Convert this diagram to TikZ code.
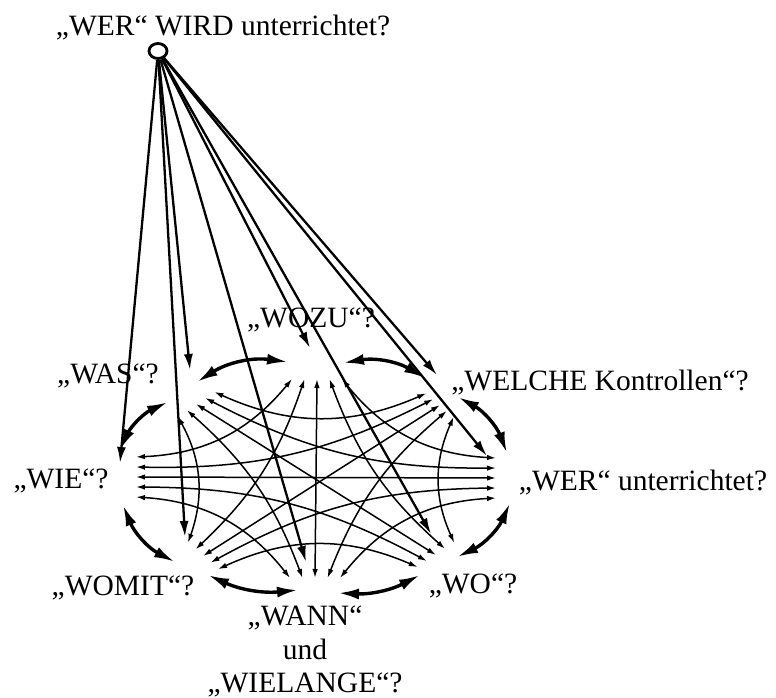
\documentclass[tikz,border=0pt]{standalone}
\usepackage{fontspec}
\setmainfont{Liberation Serif}
\usetikzlibrary{arrows.meta,shapes.geometric}
\begin{document}
\begin{tikzpicture}[x=1pt,y=-1pt,
  lbl/.style={font=\fontsize{29.5}{35}\selectfont, inner sep=0pt, anchor=base},
  thinarr/.style={line width=1.5pt, {Latex[length=9pt,width=5.5pt]}-{Latex[length=9pt,width=5.5pt]}},
  thickarr/.style={line width=3.4pt, {Latex[length=21pt,width=11pt]}-{Latex[length=21pt,width=11pt]}},
  hubarr/.style={line width=2.3pt, -{Latex[length=16pt,width=9pt]}},
  hubring/.style={draw, ellipse, line width=2.8pt, minimum width=18pt, minimum height=15pt, inner sep=0pt}]
\fill[white] (0,0) rectangle (776,698);
\useasboundingbox (0,0) rectangle (776,698);

% ports of the eight questions (5 arrow ends each)
\foreach \i/\px/\py/\tx/\ty/\s in {0/317/379/1/0/12.5, 1/440/405/0.76/0.65/9, 2/496/478/0/1/10, 3/436/555/-0.83/0.55/11, 4/315/578/-1/0/12.5, 5/203/556/-0.75/-0.66/10, 6/136/477/0/-1/10, 7/196/404/0.835/-0.55/11}
  \foreach \m in {1,...,5}
    \coordinate (p\i-\m) at ({\px+(3-\m)*\s*\tx},{\py+(3-\m)*\s*\ty});

% thin connections between non-neighbours
\foreach \i/\j in {0/2,1/3,2/4,3/5,4/6,5/7,6/0,7/1}
  \draw[thinarr] (p\i-1) to[bend right=24] (p\j-5);
\foreach \i/\j in {0/3,1/4,2/5,3/6,4/7,5/0,6/1,7/2}
  \draw[thinarr] (p\i-2) to[bend right=14] (p\j-4);
\foreach \i/\j in {0/4,1/5,2/6,3/7}
  \draw[thinarr] (p\i-3) -- (p\j-3);

% thick connections between neighbours
\coordinate (k70a) at (197,382); \coordinate (k70b) at (288,362);
\coordinate (k01a) at (343,363); \coordinate (k01b) at (425,378);
\coordinate (k12a) at (458,397); \coordinate (k12b) at (507,453);
\coordinate (k23a) at (510,503); \coordinate (k23b) at (457,557);
\coordinate (k34a) at (420,575); \coordinate (k34b) at (338,593);
\coordinate (k45a) at (298,590); \coordinate (k45b) at (208,575);
\coordinate (k56a) at (175,562); \coordinate (k56b) at (123,505);
\coordinate (k67a) at (120,450); \coordinate (k67b) at (168,402);
\draw[thickarr] (k70a) to[bend left=20] (k70b);
\draw[thickarr] (k01a) to[bend left=20] (k01b);
\draw[thickarr] (k12a) to[bend left=20] (k12b);
\draw[thickarr] (k23a) to[bend left=20] (k23b);
\draw[thickarr] (k34a) to[bend left=15] (k34b);
\draw[thickarr] (k45a) to[bend left=15] (k45b);
\draw[thickarr] (k56a) to[bend left=20] (k56b);
\draw[thickarr] (k67a) to[bend left=20] (k67b);

% hub
\node[hubring] (hub) at (158,51) {};
\coordinate (h0) at (310,348);
\coordinate (h1) at (437,375);
\coordinate (h2) at (487,456);
\coordinate (h3) at (431,534);
\coordinate (h4) at (306,562);
\coordinate (h5) at (185,537);
\coordinate (h6) at (120,463);
\coordinate (h7) at (190,370);
\foreach \h in {0,...,7}
  \draw[hubarr] (hub) -- (h\h);

% labels
\node[lbl] (title) at (223,36) {„WER“ WIRD unterrichtet?};
\node[lbl] (wozu) at (311,327) {„WOZU“?};
\node[lbl] (was) at (108,383) {„WAS“?};
\node[lbl] (welche) at (600,390) {„WELCHE Kontrollen“?};
\node[lbl] (wie) at (61,488) {„WIE“?};
\node[lbl] (wer) at (643,490) {„WER“ unterrichtet?};
\node[lbl] (womit) at (123,595) {„WOMIT“?};
\node[lbl] (wo) at (473,593) {„WO“?};
\node[lbl] (wann) at (305,625) {„WANN“};
\node[lbl] (und) at (305,659) {und};
\node[lbl] (wielange) at (305,692) {„WIELANGE“?};
\end{tikzpicture}
\end{document}
